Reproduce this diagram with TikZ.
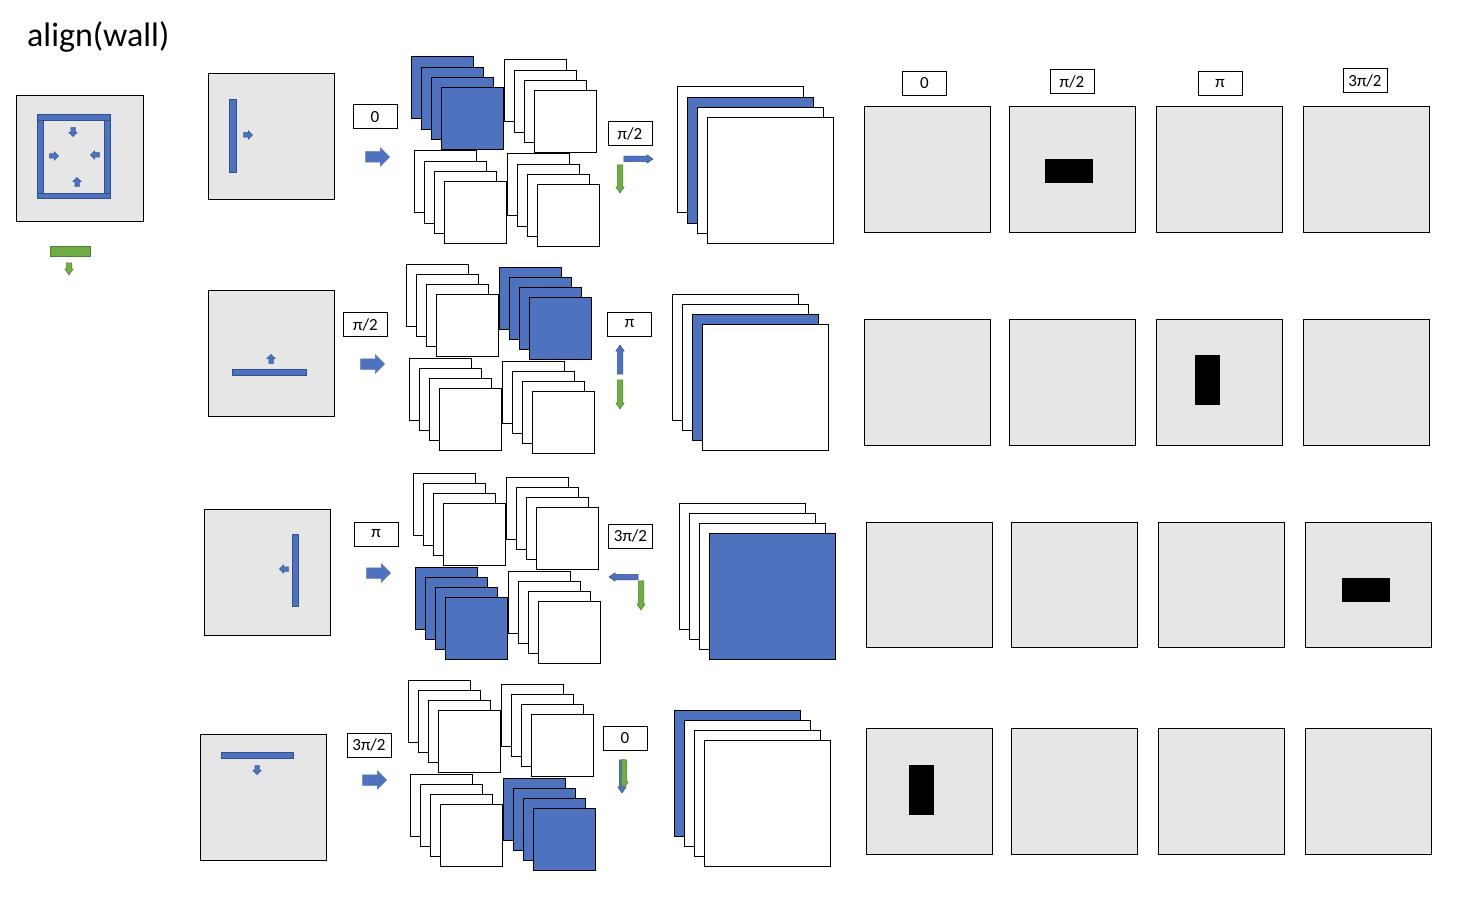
\documentclass[tikz,border=0pt]{standalone}
\usepackage{fontspec}
\setmainfont{Carlito}
\usetikzlibrary{shapes.arrows}

\definecolor{wallblue}{RGB}{79,114,190}
\definecolor{walledge}{RGB}{47,82,143}
\definecolor{dropgreen}{RGB}{112,173,71}
\definecolor{dropedge}{RGB}{80,126,50}
\definecolor{panelgray}{RGB}{230,230,230}

\tikzset{
    panel/.style={draw=black, line width=1pt, fill=panelgray},
    tile/.style={draw=black, line width=1pt},
    wallbar/.style={draw=walledge, line width=0.8pt, fill=wallblue},
    blackbox/.style={fill=black},
    anglebox/.style={draw=black, line width=1pt, minimum width=44pt, minimum height=24pt,
        inner sep=0pt, font=\fontsize{17}{20}\selectfont},
    bigarrow/.style={single arrow, draw=wallblue, fill=wallblue, line width=0.5pt,
        inner xsep=0pt, inner ysep=5pt, minimum height=24pt, single arrow head extend=4pt},
    smallarrow/.style={single arrow, draw=walledge, fill=wallblue, line width=0.5pt,
        inner xsep=0pt, inner ysep=2pt, minimum height=9pt, single arrow head extend=2pt},
    thinarrow/.style={single arrow, line width=0.5pt, inner xsep=0pt, inner ysep=2.5pt,
        single arrow head extend=1.5pt, single arrow tip angle=70},
    bluethin/.style={thinarrow, draw=walledge, fill=wallblue},
    greenthin/.style={thinarrow, draw=dropedge, fill=dropgreen},
}

% stack of tiles: back corner, tile size, fill of each tile from back to front
\newcommand{\tilestack}[3]{%
    \foreach \c [count=\i from 0] in {#3}
        \draw[tile, fill=\c, shift={(#1)}] (\i*10.3,\i*10.3) rectangle ++(#2,#2);
}

\begin{document}
\begin{tikzpicture}[x=1pt, y=-1pt]

    \useasboundingbox (0,0) rectangle (1470,912);

    % Title
    \node[anchor=base west, inner sep=0pt, font=\fontsize{34}{40}\selectfont] (title) at (27,47) {align(wall)};

    % Closed room with four walls pushing inwards
    \draw[panel] (16,96) rectangle (143,222);
    \draw[wallbar] (37,114) rectangle (110,120);
    \draw[wallbar] (37,120) rectangle (43,193);
    \draw[wallbar] (104,120) rectangle (110,193);
    \draw[wallbar] (37,193) rectangle (110,198);
    \node[smallarrow, rotate=-90] (roomdown) at (73,131) {};
    \node[smallarrow] (roomright) at (53,156) {};
    \node[smallarrow, rotate=180] (roomleft) at (96,155) {};
    \node[smallarrow, rotate=90] (roomup) at (77,183) {};

    % Object to be dropped
    \draw[draw=dropedge, line width=0.8pt, fill=dropgreen] (50,246) rectangle (90,256);
    \node[greenthin, minimum height=12pt, rotate=-90] (drop) at (69,267) {};

    % ---------------- Row 1 : wall on the left ----------------
    \draw[panel] (208,74) rectangle (334,200);
    \draw[wallbar] (229,99) rectangle (236,172);
    \node[smallarrow] (pushA) at (247,135) {};
    \node[anglebox] (rotA) at (375,117) {0};
    \node[bigarrow] (goA) at (375,157) {};
    \tilestack{411,57}{62}{wallblue,wallblue,wallblue,wallblue}
    \tilestack{504,60}{62}{white,white,white,white}
    \tilestack{414,151}{62}{white,white,white,white}
    \tilestack{507,154}{62}{white,white,white,white}
    \node[anglebox] (turnA) at (630,134) {π/2};
    \node[bluethin, minimum height=29pt] (dirA) at (636.5,159) {};
    \node[greenthin, minimum height=28pt, rotate=-90] (fallA) at (620,177) {};
    \tilestack{677,87}{126}{white,wallblue,white,white}

    % ---------------- Row 2 : wall at the bottom ----------------
    \draw[panel] (208,290) rectangle (334,416);
    \draw[wallbar] (232,369) rectangle (306,375);
    \node[smallarrow, rotate=90] (pushB) at (271,360) {};
    \node[anglebox] (rotB) at (365.5,324.5) {π/2};
    \node[bigarrow] (goB) at (370,364) {};
    \tilestack{406,264}{62}{white,white,white,white}
    \tilestack{499,267}{62}{wallblue,wallblue,wallblue,wallblue}
    \tilestack{409,358}{62}{white,white,white,white}
    \tilestack{502,361}{62}{white,white,white,white}
    \node[anglebox] (turnB) at (629.5,324) {π};
    \node[bluethin, minimum height=29pt, rotate=90] (dirB) at (620,361.5) {};
    \node[greenthin, minimum height=29pt, rotate=-90] (fallB) at (620,392.5) {};
    \tilestack{672,294}{126}{white,white,wallblue,white}

    % ---------------- Row 3 : wall on the right ----------------
    \draw[panel] (204,509) rectangle (330,635);
    \draw[wallbar] (292,534) rectangle (298,606);
    \node[smallarrow, rotate=180] (pushC) at (285,569) {};
    \node[anglebox] (rotC) at (376,534) {π};
    \node[bigarrow] (goC) at (376,573) {};
    \tilestack{413,473}{62}{white,white,white,white}
    \tilestack{506,477}{62}{white,white,white,white}
    \tilestack{415,567}{62}{wallblue,wallblue,wallblue,wallblue}
    \tilestack{508,571}{62}{white,white,white,white}
    \node[anglebox] (turnC) at (630.5,536) {3π/2};
    \node[bluethin, minimum height=29pt, rotate=180] (dirC) at (625.5,577) {};
    \node[greenthin, minimum height=29pt, rotate=-90] (fallC) at (641,593.5) {};
    \tilestack{679,503}{126}{white,white,white,wallblue}

    % ---------------- Row 4 : wall at the top ----------------
    \draw[panel] (200,734) rectangle (326,860);
    \draw[wallbar] (221,752) rectangle (293,758);
    \node[smallarrow, rotate=-90] (pushD) at (257,769) {};
    \node[anglebox] (rotD) at (369,745) {3π/2};
    \node[bigarrow] (goD) at (372,780) {};
    \tilestack{408,680}{62}{white,white,white,white}
    \tilestack{501,684}{62}{white,white,white,white}
    \tilestack{410,774}{62}{white,white,white,white}
    \tilestack{503,778}{62}{wallblue,wallblue,wallblue,wallblue}
    \node[anglebox] (turnD) at (625,738.5) {0};
    \node[bluethin, minimum height=33pt, rotate=-90] (dirD) at (622,774.5) {};
    \node[greenthin, minimum height=28pt, rotate=-90] (fallD) at (624,772) {};
    \tilestack{674,710}{126}{wallblue,white,white,white}

    % ---------------- Result grids, one column per rotation ----------------
    \node[anglebox] (colA) at (924.5,83.5) {0};
    \node[anglebox] (colB) at (1072,81.5) {π/2};
    \node[anglebox] (colC) at (1220,83.5) {π};
    \node[anglebox] (colD) at (1365,80.5) {3π/2};
    \foreach \x in {864,1009,1156,1303} {
        \draw[panel] (\x,107) rectangle ++(126,126);
        \draw[panel] (\x,319) rectangle ++(126,126);
    }
    \foreach \x in {866,1011,1158,1305} {
        \draw[panel] (\x,522) rectangle ++(126,125);
        \draw[panel] (\x,728) rectangle ++(126,126);
    }
    \fill[blackbox] (1045,159) rectangle (1093,183);   % row 1, pi/2
    \fill[blackbox] (1195,355) rectangle (1220,405);   % row 2, pi
    \fill[blackbox] (1342,578) rectangle (1390,602);   % row 3, 3pi/2
    \fill[blackbox] (909,765) rectangle (934,815);     % row 4, 0

\end{tikzpicture}
\end{document}
